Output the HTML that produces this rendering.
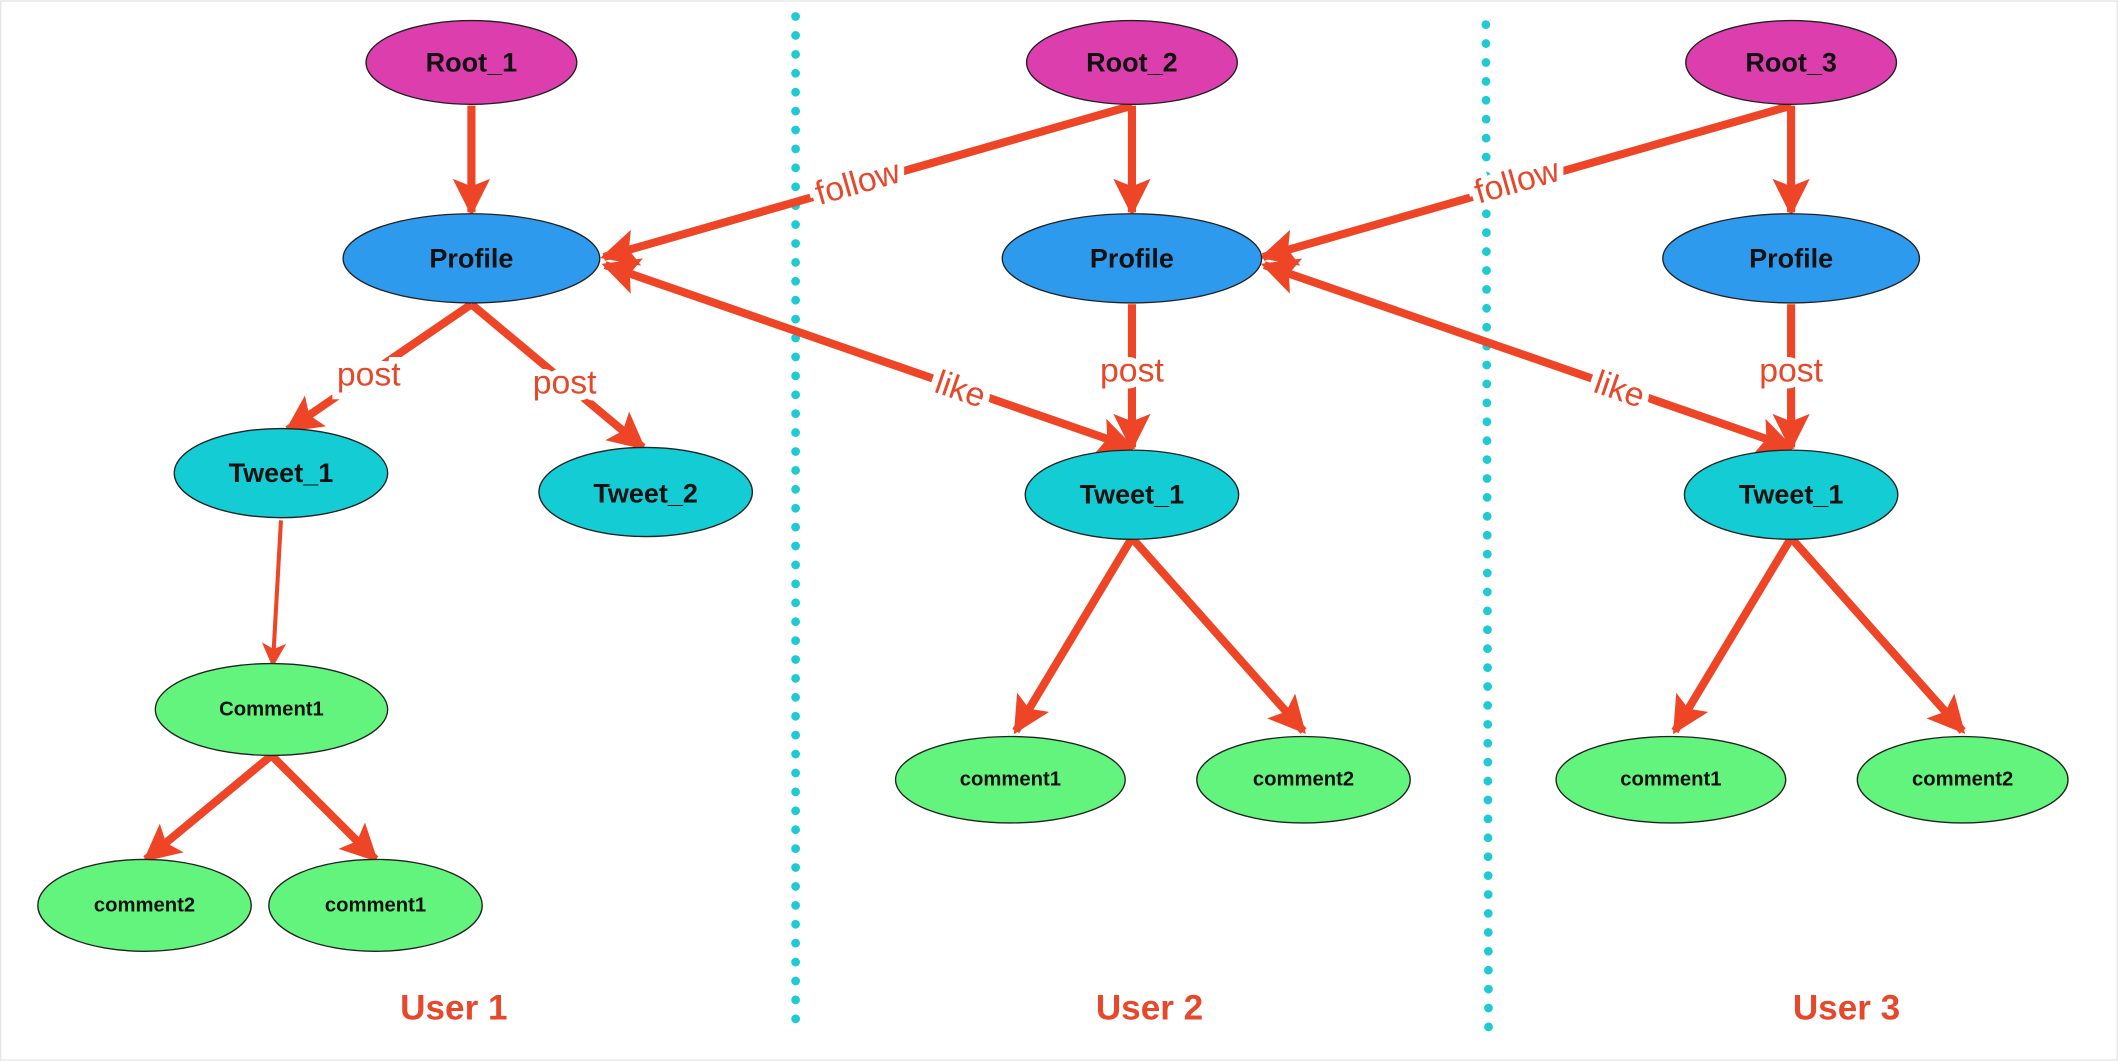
<!DOCTYPE html>
<html><head><meta charset="utf-8"><style>
html,body{margin:0;padding:0;background:#fff;width:2118px;height:1061px;overflow:hidden}
svg{display:block}
.n{font-family:"Liberation Sans",sans-serif;font-weight:bold;fill:#111;text-anchor:middle;dominant-baseline:central}
.l{font-family:"Liberation Sans",sans-serif;fill:#e8482a;font-size:25px;text-anchor:middle;dominant-baseline:central;stroke:#fff;stroke-width:10px;paint-order:stroke}
.e{stroke:#ee4527;stroke-width:6;fill:none}
.u{font-family:"Liberation Sans",sans-serif;font-weight:bold;fill:#e8482a;font-size:26px;text-anchor:middle;dominant-baseline:central}
</style></head><body>
<svg width="2118" height="1061" viewBox="0 0 1568 785" xmlns="http://www.w3.org/2000/svg">
<defs>
<marker id="a" viewBox="0 0 10 10" refX="9" refY="5" markerWidth="4.6" markerHeight="4.6" orient="auto-start-reverse" markerUnits="strokeWidth">
<path d="M0,0 L10,5 L0,10 L2,5 z" fill="#ee4527"/></marker>
<marker id="b" viewBox="0 0 10 10" refX="9" refY="5" markerWidth="6" markerHeight="6" orient="auto" markerUnits="strokeWidth">
<path d="M0,0 L10,5 L0,10 L2.5,5 z" fill="#ee4527"/></marker>
</defs>
<rect x="0.5" y="0.5" width="1567" height="784" fill="#fff" stroke="#e6e6e6"/>
<line x1="589" y1="12" x2="589" y2="756" stroke="#1fcad3" stroke-width="6.5" stroke-linecap="round" stroke-dasharray="0 14"/>
<line x1="1100" y1="18" x2="1102" y2="762" stroke="#1fcad3" stroke-width="6.5" stroke-linecap="round" stroke-dasharray="0 14"/>

<g class="e">
<line x1="349" y1="78" x2="349" y2="157" marker-end="url(#a)"/>
<line x1="349" y1="225" x2="213" y2="318" marker-end="url(#a)"/>
<line x1="349" y1="225" x2="476" y2="331" marker-end="url(#a)"/>
<line x1="208" y1="385" x2="202" y2="492" stroke-width="3" marker-end="url(#b)"/>
<line x1="201" y1="559" x2="108" y2="636" marker-end="url(#a)"/>
<line x1="201" y1="559" x2="278" y2="636" marker-end="url(#a)"/>

<line x1="838" y1="78" x2="447" y2="190" marker-end="url(#a)"/>
<line x1="448" y1="196" x2="838" y2="331" marker-start="url(#a)" marker-end="url(#a)"/>
<line x1="838" y1="78" x2="838" y2="157" marker-end="url(#a)"/>
<line x1="838" y1="225" x2="838" y2="331" marker-end="url(#a)"/>
<line x1="838" y1="398" x2="752" y2="541" marker-end="url(#a)"/>
<line x1="838" y1="398" x2="965" y2="541" marker-end="url(#a)"/>

<line x1="1326" y1="78" x2="935" y2="190" marker-end="url(#a)"/>
<line x1="936" y1="196" x2="1326" y2="331" marker-start="url(#a)" marker-end="url(#a)"/>
<line x1="1326" y1="78" x2="1326" y2="157" marker-end="url(#a)"/>
<line x1="1326" y1="225" x2="1326" y2="331" marker-end="url(#a)"/>
<line x1="1326" y1="398" x2="1240" y2="541" marker-end="url(#a)"/>
<line x1="1326" y1="398" x2="1453" y2="541" marker-end="url(#a)"/>
</g>

<text class="l" x="273" y="277">post</text>
<text class="l" x="418" y="283">post</text>
<text class="l" x="635" y="135" transform="rotate(-16 635 135)">follow</text>
<text class="l" x="711" y="288" transform="rotate(19 711 288)">like</text>
<text class="l" x="838" y="274">post</text>
<text class="l" x="1123" y="134" transform="rotate(-16 1123 134)">follow</text>
<text class="l" x="1199" y="288" transform="rotate(19 1199 288)">like</text>
<text class="l" x="1326" y="274">post</text>

<g stroke="#222" stroke-width="1">
<ellipse cx="349" cy="46" rx="78" ry="31" fill="#dc3fad"/>
<ellipse cx="838" cy="46" rx="78" ry="31" fill="#dc3fad"/>
<ellipse cx="1326" cy="46" rx="78" ry="31" fill="#dc3fad"/>
<ellipse cx="349" cy="191" rx="95" ry="33" fill="#2e9aee"/>
<ellipse cx="838" cy="191" rx="96" ry="33" fill="#2e9aee"/>
<ellipse cx="1326" cy="191" rx="95" ry="33" fill="#2e9aee"/>
<ellipse cx="208" cy="350" rx="79" ry="33" fill="#14cdd4"/>
<ellipse cx="478" cy="364" rx="79" ry="33" fill="#14cdd4"/>
<ellipse cx="838" cy="366" rx="79" ry="33" fill="#14cdd4"/>
<ellipse cx="1326" cy="366" rx="79" ry="33" fill="#14cdd4"/>
<ellipse cx="201" cy="525" rx="86" ry="34" fill="#62f47d"/>
<ellipse cx="107" cy="670" rx="79" ry="34" fill="#62f47d"/>
<ellipse cx="278" cy="670" rx="79" ry="34" fill="#62f47d"/>
<ellipse cx="748" cy="577" rx="85" ry="32" fill="#62f47d"/>
<ellipse cx="965" cy="577" rx="79" ry="32" fill="#62f47d"/>
<ellipse cx="1237" cy="577" rx="85" ry="32" fill="#62f47d"/>
<ellipse cx="1453" cy="577" rx="78" ry="32" fill="#62f47d"/>
</g>
<g class="n" font-size="20">
<text x="349" y="46">Root_1</text>
<text x="838" y="46">Root_2</text>
<text x="1326" y="46">Root_3</text>
<text x="349" y="191">Profile</text>
<text x="838" y="191">Profile</text>
<text x="1326" y="191">Profile</text>
<text x="208" y="350">Tweet_1</text>
<text x="478" y="365">Tweet_2</text>
<text x="838" y="366">Tweet_1</text>
<text x="1326" y="366">Tweet_1</text>
</g>
<g class="n" font-size="15">
<text x="201" y="525">Comment1</text>
<text x="107" y="670">comment2</text>
<text x="278" y="670">comment1</text>
<text x="748" y="577">comment1</text>
<text x="965" y="577">comment2</text>
<text x="1237" y="577">comment1</text>
<text x="1453" y="577">comment2</text>
</g>
<text class="u" x="336" y="746">User 1</text>
<text class="u" x="851" y="746">User 2</text>
<text class="u" x="1367" y="746">User 3</text>
</svg>
</body></html>
